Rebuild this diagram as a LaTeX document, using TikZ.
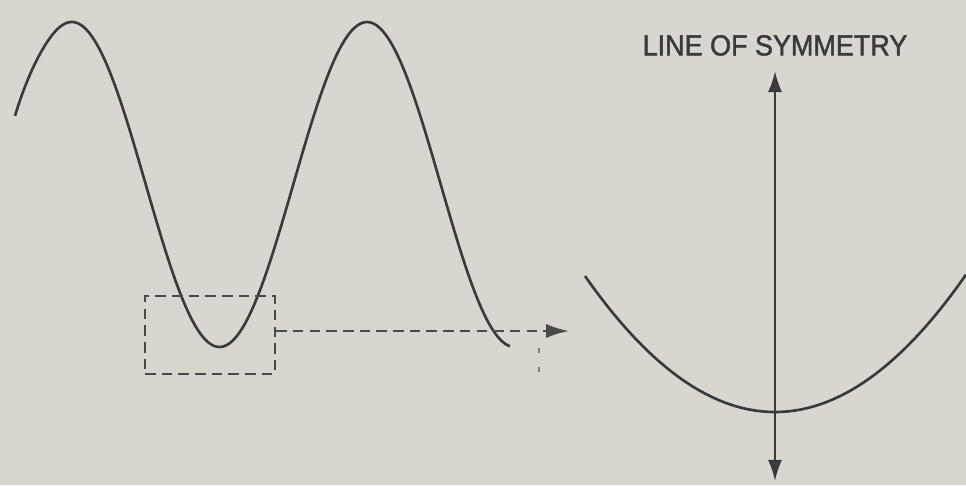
\documentclass[tikz,border=0pt]{standalone}
\usepackage{fontspec}
\setmainfont{Liberation Sans}
\newfontfamily\labelfont[FakeStretch=0.93, FakeBold=1.5]{Liberation Sans}
\usetikzlibrary{arrows.meta, positioning}
\definecolor{Paper}{HTML}{D9D6D0}
\definecolor{Ink}{HTML}{3A3A3A}
\definecolor{Dash}{HTML}{4A4A4A}

\begin{document}
\begin{tikzpicture}[x=0.02cm, y=-0.02cm,
    curve/.style={Ink, line width=1.5pt, line join=round},
    zoomdash/.style={Dash, line width=1.4pt, dash pattern=on 6pt off 3.5pt},
    every node/.style={font=\labelfont\fontsize{16.5}{19}\selectfont, text=Ink}]
  % Paper
  \fill[Paper] (0,0) rectangle (966,485);
  \useasboundingbox (0,0) rectangle (966,485);
  % Wave
  \draw[curve] plot[domain=15:510, samples=160] (\x, {184.5 - 162.5*cos((\x-72)/295*360) - 12*exp(-((\x-15)/25)^2)});
  % Zoom window and arrow
  \node[zoomdash, draw, minimum width=2.6cm, minimum height=1.56cm, inner sep=0pt] (zoombox) at (210,335) {};
  \coordinate (arrowend) at (569,331);
  \draw[zoomdash, -{Latex[length=13pt, width=8pt]}] (zoombox.east |- arrowend) -- (arrowend);
  \draw[Dash!70, line width=1.2pt, dash pattern=on 3pt off 8pt] (539,348) -- (539,372);
  % Magnified trough
  \draw[curve] plot[domain=585:966, samples=120] (\x, {412 - 136*((\x-775)/190)^2});
  % Line of symmetry
  \coordinate (symtop) at (775,71);
  \coordinate (symbot) at (775,481);
  \draw[Ink, line width=1.3pt, {Latex[length=12pt, width=8pt]}-{Latex[length=12pt, width=8pt]}] (symtop) -- (symbot);
  \node[above=0.30cm of symtop, inner sep=0pt] (symlabel) {LINE OF SYMMETRY};
\end{tikzpicture}
\end{document}
